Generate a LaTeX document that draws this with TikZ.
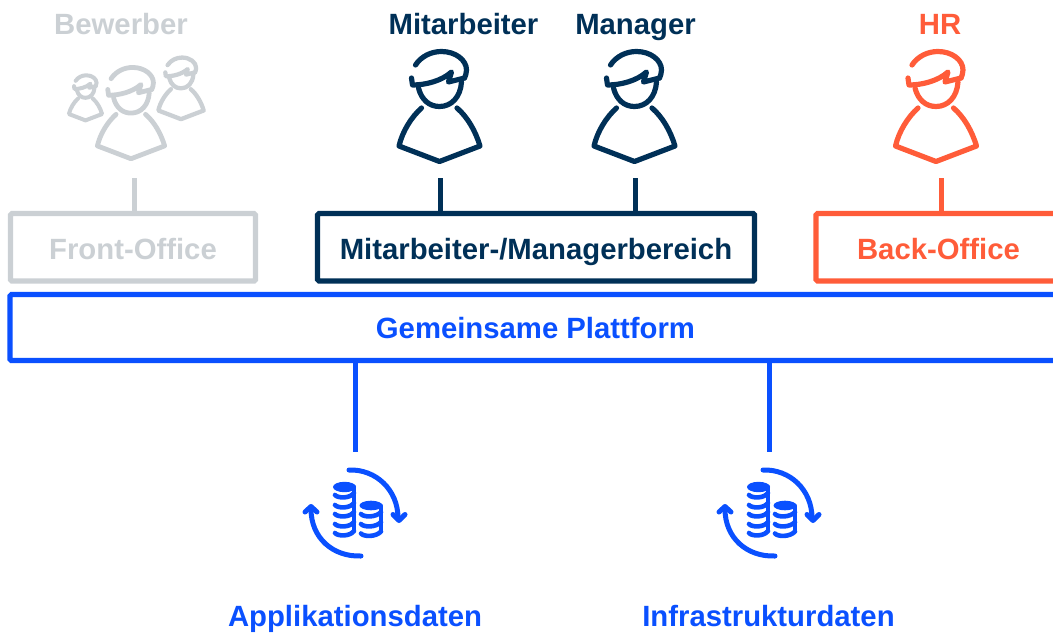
\documentclass[tikz,border=0pt]{standalone}
\usepackage{fontspec}
\setmainfont{Liberation Sans}
\definecolor{cblue}{RGB}{10,80,255}
\definecolor{cnavy}{RGB}{0,48,87}
\definecolor{corange}{RGB}{255,92,57}
\definecolor{cgrey}{RGB}{203,208,212}
\tikzset{
  lbl/.style={font=\bfseries\fontsize{29.3}{32}\selectfont,anchor=base,inner sep=0pt},
  boxnode/.style={draw=#1,text=#1,line width=5.3pt,rounded corners=1.5pt,minimum height=67.5pt,inner sep=0pt,outer sep=0pt,
     font=\bfseries\fontsize{29.3}{32}\selectfont,text height=25pt,text depth=0pt},
  conn/.style={line width=5pt}
}
\newcommand\personicon[5]{%
 \begin{scope}[shift={(#1,#2)},scale=#3,draw=#4,line width=#5,line cap=round,line join=round]
  \draw (-24,-98) .. controls (-18,-107) and (-8,-111.5) .. (2,-111.5) .. controls (16,-111.5) and (27,-103) .. (27,-93) .. controls (27,-90) and (26,-87) .. (25,-85);
  \draw (-28,-85) -- (-27,-78) .. controls (-14,-78) and (2,-82) .. (12,-91) -- (9,-81) -- (25,-85);
  \draw (-21,-75) .. controls (-18,-63) and (-10,-56.5) .. (0,-56.5) .. controls (12,-56.5) and (21,-66) .. (22,-81);
  \draw (-18,-55) .. controls (-28,-46) and (-37,-32) .. (-40.5,-17) -- (0,-1.5) -- (40.5,-17) .. controls (36,-32) and (28,-46) .. (17.5,-55);
 \end{scope}}
\newcommand\dataicon[1]{%
 \begin{scope}[shift={(#1,0)},draw=cblue,line cap=round,line join=round]
  \draw[line width=5pt] (349,470) .. controls (376,469) and (398,490) .. (398,518);
  \draw[line width=5pt] (393,514.5) -- (399,520.5) -- (405,514.5);
  \draw[line width=5pt] (361,556) .. controls (333,557) and (311,538) .. (311,509);
  \draw[line width=5pt] (305,512) -- (311,506.5) -- (317,512);
  % large stack
  \fill[cblue] (344.5,487) ellipse (11.5pt and 5.2pt);
  \draw[line width=4.6pt] (354,487) -- (354,530);
  \foreach \yy in {495,505,514,524,533}{
    \draw[line width=4.6pt] (335,\yy) .. controls (338,\yy+3.5) and (350,\yy+3.5) .. (354,\yy-2);
  }
  % small stack
  \fill[cblue] (371,505.5) ellipse (11.5pt and 4.8pt);
  \draw[line width=4.6pt] (381,506) -- (381,531);
  \foreach \yy in {514,524,533.5}{
    \draw[line width=4.6pt] (361,\yy) .. controls (364,\yy+3.5) and (376,\yy+3.5) .. (381,\yy-2);
  }
 \end{scope}}
\begin{document}
\begin{tikzpicture}[x=1pt,y=-1pt]
\clip (0,0) rectangle (1053,635);
% labels
\node[lbl,text=cgrey] (tBew) at (121,34.5) {Bewerber};
\node[lbl,text=cnavy] (tMit) at (463.5,34.5) {Mitarbeiter};
\node[lbl,text=cnavy] (tMan) at (635.5,34.5) {Manager};
\node[lbl,text=corange] (tHR) at (940,34.5) {HR};
% persons
\personicon{85.5}{121}{.41}{cgrey}{4pt}
\personicon{181}{120}{.56}{cgrey}{4.3pt}
\personicon{131}{160}{.83}{cgrey}{4.8pt}
\personicon{439.5}{163}{1}{cnavy}{5.2pt}
\personicon{634.5}{163}{1}{cnavy}{5.2pt}
\personicon{936}{163}{1}{corange}{5.2pt}
\coordinate (pB) at (134.5,178);
\coordinate (pM) at (440,178);
\coordinate (pN) at (635.5,178);
\coordinate (pH) at (941,178);
% boxes
\node[boxnode=cgrey,minimum width=245pt,anchor=north west] (front) at (10.5,213.5) {Front-Office};
\node[boxnode=cnavy,minimum width=437pt,anchor=north west] (mgr) at (317.5,213.5) {Mitarbeiter-/Managerbereich};
\node[boxnode=corange,minimum width=245pt,anchor=north west] (back) at (816,213.5) {Back-Office};
\node[boxnode=cblue,minimum width=1051pt,minimum height=66pt,text height=21pt,anchor=north west] (plat) at (10,294.5) {Gemeinsame Plattform};
% connectors
\draw[conn,cgrey] (pB) -- (pB |- front.north);
\draw[conn,cnavy] (pM) -- (pM |- mgr.north);
\draw[conn,cnavy] (pN) -- (pN |- mgr.north);
\draw[conn,corange] (pH) -- (pH |- back.north);
\coordinate (d1) at (355,452);
\coordinate (d2) at (769,452);
\draw[conn,cblue] (d1 |- plat.south) -- (d1);
\draw[conn,cblue] (d2 |- plat.south) -- (d2);
% data icons
\dataicon{0}
\dataicon{414}
\node[lbl,text=cblue] (tApp) at (355,626.5) {Applikationsdaten};
\node[lbl,text=cblue] (tInf) at (768.5,626.5) {Infrastrukturdaten};
\end{tikzpicture}
\end{document}
